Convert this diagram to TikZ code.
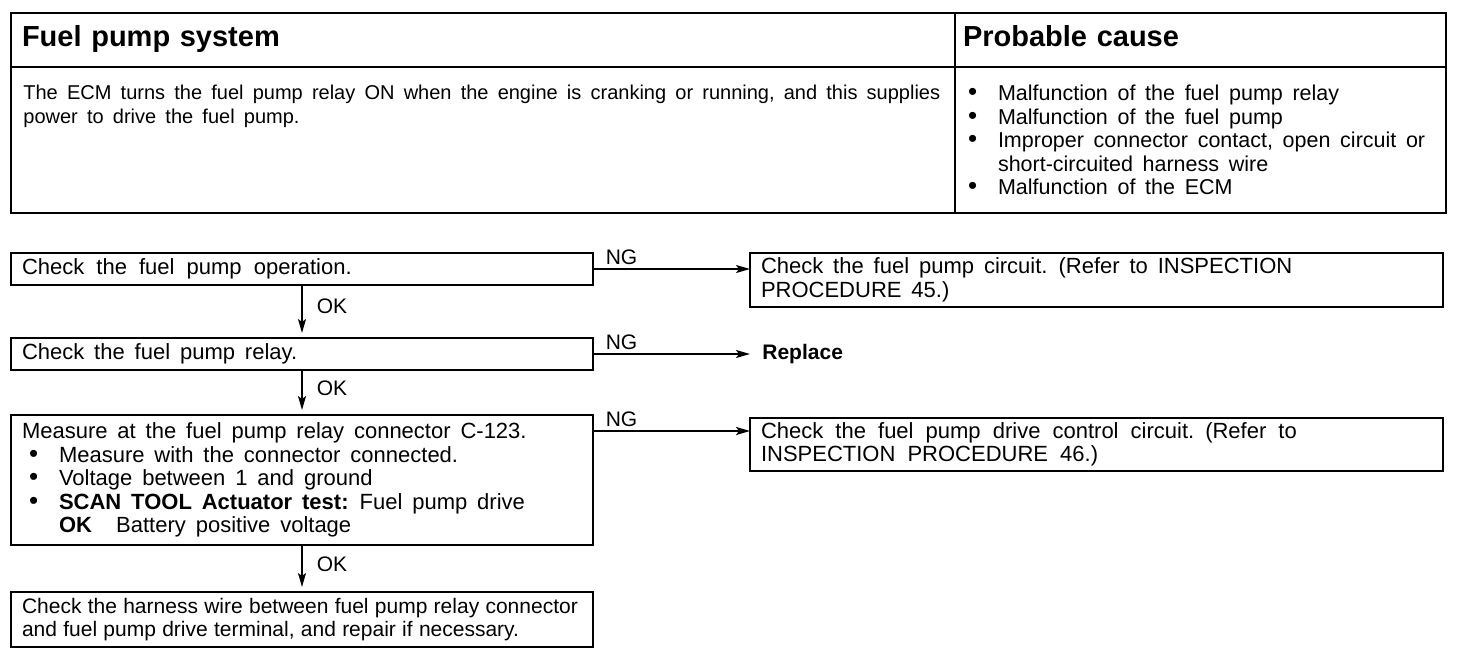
\documentclass[tikz,border=0pt]{standalone}
\usepackage{fontspec}
\setmainfont{Liberation Sans}
\usetikzlibrary{arrows.meta, positioning}

\newcommand{\fpdot}{\makebox[15pt][l]{\fontsize{13}{0}\selectfont\textbullet}}

\begin{document}
\begin{tikzpicture}[x=0.5pt, y=-0.5pt, >={Stealth[length=7pt, width=4pt, inset=1.5pt]},
    txt/.style={font=\fontsize{10}{11.75}\selectfont,
        execute at begin node={\spaceskip=0.46em plus 0.1em minus 0.05em\relax}},
    flowtxt/.style={font=\fontsize{11}{11.75}\selectfont,
        execute at begin node={\spaceskip=#1 plus 0.1em minus 0.05em\relax}},
    flowtxt/.default=0.45em,
    cell/.style={draw, line width=0.9pt, anchor=north west, inner sep=0pt, outer sep=0pt},
    head/.style={cell, minimum height=27pt, align=left, font=\bfseries\fontsize{14.5}{17}\selectfont},
    flowbox/.style={draw, line width=1pt, anchor=north west, inner xsep=5.5pt, inner ysep=0pt,
        outer sep=0pt, align=left, flowtxt},
    link/.style={->, line width=0.75pt},
    ng/.style={anchor=south west, inner sep=0pt, xshift=6pt, yshift=2pt, font=\fontsize{10.5}{12}\selectfont},
    ok/.style={right, inner xsep=7pt, pos=0.4, font=\fontsize{10.5}{12}\selectfont}]
    \useasboundingbox (0,0) rectangle (1472,654);
    % table of system and causes
    \node[head, minimum width=472pt, inner xsep=5.5pt, text width=461pt] (sysh) at (11,13) {\strut Fuel pump system};
    \node[head, minimum width=245.5pt, inner xsep=4pt, text width=237.5pt] (cauh) at (sysh.north east) {\strut Probable cause};
    \node[cell, minimum width=472pt, minimum height=73pt] (sysd) at (sysh.south west) {};
    \node[cell, minimum width=245.5pt, minimum height=73pt, inner xsep=6.5pt, text width=232.5pt,
        align=left, flowtxt, font=\fontsize{10.75}{11.75}\selectfont] (caud) at (sysd.north east) {%
        \fpdot Malfunction of the fuel pump relay\\
        \fpdot Malfunction of the fuel pump\\
        \fpdot Improper connector contact, open circuit or\\
        \hspace*{15pt}short-circuited harness wire\\
        \fpdot Malfunction of the ECM};
    \node[anchor=north west, inner sep=0pt, align=left, txt] (systxt) at ([xshift=6pt, yshift=-9pt]sysd.north west)
        {The ECM turns the fuel pump relay ON when the engine is cranking or running, and this supplies\\
         power to drive the fuel pump.};
    \draw[line width=1.4pt] (sysh.north west) rectangle (caud.south east);

    % flow chart
    \node[flowbox, flowtxt=0.55em, text width=280pt, minimum height=16pt] (chkop) at (11,253) {Check the fuel pump operation.};
    \node[flowbox, text width=335.5pt, minimum height=27pt] (circ) at (750,253)
        {Check the fuel pump circuit. (Refer to INSPECTION\\ PROCEDURE 45.)};
    \node[flowbox, text width=280pt, minimum height=16pt] (chkrel) at (11,338) {Check the fuel pump relay.};
    \node[anchor=west, inner xsep=6pt, font=\bfseries\fontsize{10.5}{12}\selectfont] (repl)
        at (chkrel.east -| circ.west) {Replace};
    \node[flowbox, text width=280pt, minimum height=65pt] (meas) at (11,415)
        {Measure at the fuel pump relay connector C-123.\\
         \hspace*{3.5pt}\fpdot Measure with the connector connected.\\
         \hspace*{3.5pt}\fpdot Voltage between 1 and ground\\
         \hspace*{3.5pt}\fpdot\textbf{SCAN TOOL Actuator test:} Fuel pump drive\\
         \hspace*{18.5pt}\textbf{OK}\hspace{1.1em}Battery positive voltage};
    \node[flowbox, flowtxt=0.55em, text width=335.5pt, minimum height=26.5pt] (drvc) at (750,418)
        {Check the fuel pump drive control circuit. (Refer to\\ INSPECTION PROCEDURE 46.)};
    \node[flowbox, flowtxt=0.3em, font=\fontsize{10.5}{11.75}\selectfont, text width=280pt, minimum height=27.5pt] (harn) at (11,592)
        {Check the harness wire between fuel pump relay connector\\
         and fuel pump drive terminal, and repair if necessary.};

    \draw[link] (chkop.east) -- node[ng, pos=0]{NG} (chkop.east -| circ.west);
    \draw[link] (chkrel.east) -- node[ng, pos=0]{NG} (repl.west);
    \draw[link] ([yshift=-8pt]meas.north east) -- node[ng, pos=0]{NG} ([yshift=-8pt]meas.north east -| drvc.west);
    \draw[link, shorten >=2.5pt] (chkop) -- node[ok]{OK} (chkrel);
    \draw[link, shorten >=2.5pt] (chkrel) -- node[ok]{OK} (meas);
    \draw[link, shorten >=2.5pt] (meas) -- node[ok]{OK} (harn);
\end{tikzpicture}
\end{document}
